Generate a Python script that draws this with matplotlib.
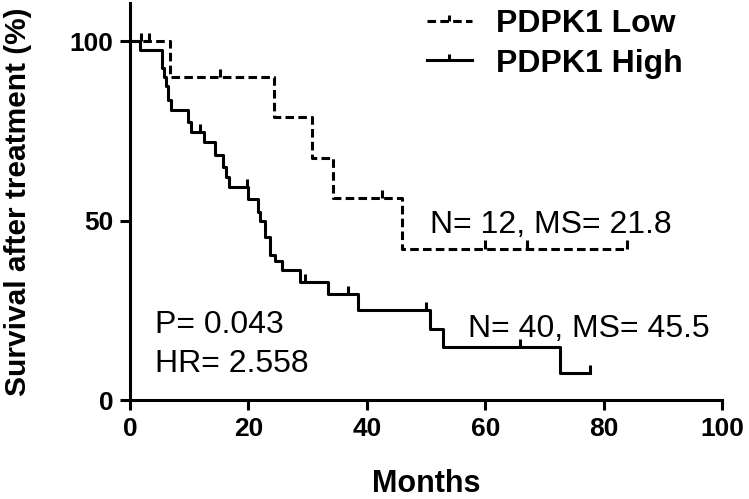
import matplotlib
matplotlib.use("Agg")
import matplotlib.pyplot as plt
from matplotlib.lines import Line2D
from matplotlib.path import Path

plt.rcParams['font.family'] = ['Liberation Sans', 'DejaVu Sans']

# PDPK1 Low (N=12): step times (months) and survival (%)
low_times = [0, 6.8, 24.3, 30.7, 34.3, 46.0]
low_surv = [100, 90, 78.75, 67.5, 56.25, 42.2]
low_end = 84.0
low_censor = [1.8, 3.2, 15.2, 42.5, 60.0, 67.0, 84.0]

# PDPK1 High (N=40)
high_times = [0, 1.7, 5.4, 5.7, 6.0, 6.4, 7.0, 9.8, 10.3, 12.5, 14.4, 15.7,
              16.3, 16.8, 20.0, 21.6, 22.0, 22.8, 23.6, 24.5, 25.7, 28.7,
              33.4, 38.5, 50.6, 52.8, 72.6]
high_surv = [100, 97.5, 92.5, 90, 87.5, 83.5, 80.8, 77.5, 74.7, 71.9, 68.2,
             64.9, 62, 59.3, 56, 52.5, 50, 45.4, 40.4, 38.8, 36.2, 32.9,
             29.5, 25.1, 19.8, 14.8, 7.5]
high_end = 77.7
high_censor = [11.8, 19.8, 29.6, 36.8, 50.0, 65.9, 77.7]

x_ticks = [0, 20, 40, 60, 80, 100]
y_ticks = [0, 50, 100]


def surv_at(times, surv, t):
    s = surv[0]
    for ti, si in zip(times, surv):
        if ti <= t:
            s = si
    return s


fig = plt.figure(figsize=(7.49, 4.99), dpi=100)
ax = fig.add_axes([130 / 749, 99 / 499, 592 / 749, 397 / 499])

lw = 2.2
ax.step(low_times + [low_end], low_surv + [low_surv[-1]], where='post',
        color='black', lw=lw, dashes=(2.8, 1.4), dash_capstyle='butt')
ax.step(high_times + [high_end], high_surv + [high_surv[-1]], where='post',
        color='black', lw=lw)

# censor marks
tick_h = 2.3
for c in low_censor:
    s = surv_at(low_times, low_surv, c)
    ax.vlines(c, s, s + tick_h, color='black', lw=lw)
for c in high_censor:
    s = surv_at(high_times, high_surv, c)
    ax.vlines(c, s, s + tick_h, color='black', lw=lw)

ax.set_xlim(0, 100)
ax.set_ylim(0, 110.6)
ax.set_xticks(x_ticks)
ax.set_yticks(y_ticks)
ax.spines['top'].set_visible(False)
ax.spines['right'].set_visible(False)
for sp in ['left', 'bottom']:
    ax.spines[sp].set_linewidth(2.2)
ax.tick_params(direction='out', length=7, width=2.2, labelsize=19, pad=5)
for lab in ax.get_xticklabels() + ax.get_yticklabels():
    lab.set_fontweight('bold')

ax.set_xlabel('Months', fontsize=22, fontweight='bold')
ax.set_ylabel('Survival after treatment (%)', fontsize=21.5, fontweight='bold')
ax.xaxis.set_label_coords(0.5, -0.175)
ax.yaxis.set_label_coords(-0.165, 0.5)

ax.text(50.7, 46.5, 'N= 12, MS= 21.8', fontsize=23, va='baseline')
ax.text(57.1, 17.5, 'N= 40, MS= 45.5', fontsize=23, va='baseline')
ax.text(4.2, 18.7, 'P= 0.043', fontsize=23, va='baseline')
ax.text(4.2, 7.8, 'HR= 2.558', fontsize=23, va='baseline')

tick_marker = Path([(0, 0), (0, 1)], [Path.MOVETO, Path.LINETO])
handles = [
    Line2D([], [], color='black', lw=lw, dashes=(2.8, 1.4), marker=tick_marker,
           markersize=8, markeredgewidth=lw),
    Line2D([], [], color='black', lw=lw, marker=tick_marker,
           markersize=8, markeredgewidth=lw),
]
fig.legend(handles, ['PDPK1 Low', 'PDPK1 High'], loc='upper left',
           bbox_to_anchor=(427 / 749, 490 / 499), frameon=False,
           prop={'weight': 'bold', 'size': 23}, handlelength=1.4,
           handletextpad=0.75, labelspacing=0.3, borderpad=0, borderaxespad=0)

fig.savefig('out.png', dpi=100)
